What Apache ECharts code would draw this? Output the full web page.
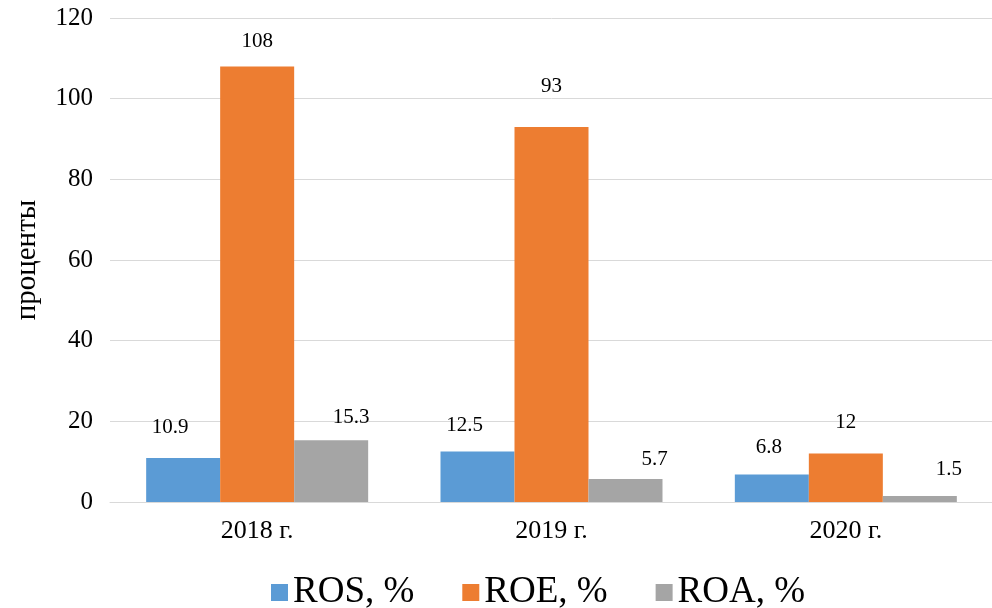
<!DOCTYPE html>
<html><head><meta charset="utf-8">
<script src="https://cdn.jsdelivr.net/npm/echarts@6/dist/echarts.min.js"></script>
<style>html,body{margin:0;padding:0;background:#fff}#c{width:992px;height:608px}</style>
</head><body><div id="c"></div>
<script>
var categories = ['2018 г.', '2019 г.', '2020 г.'];
var seriesNames = ['ROS, %', 'ROE, %', 'ROA, %'];
var ros = [10.9, 12.5, 6.8];
var roe = [108, 93, 12];
var roa = [15.3, 5.7, 1.5];
var yTicks = [0, 20, 40, 60, 80, 100, 120];
var colors = ['#5B9BD5', '#ED7D31', '#A5A5A5'];
// label pixel offsets (layout only)
var labelOffsets = [
  [[-13, -20], [-13, -16], [-3, -17]],
  [[0, -14], [0, -30], [0, -21]],
  [[20, -12], [29, -9], [29, -16]]
];
var values = [ros, roe, roa];
var font = '"Liberation Serif", "Times New Roman", serif';

var series = values.map(function (arr, si) {
  return {
    name: seriesNames[si],
    type: 'bar',
    barWidth: 74,
    barGap: '0%',
    itemStyle: { color: colors[si] },
    data: arr.map(function (v, i) {
      return {
        value: v,
        label: { offset: labelOffsets[si][i] }
      };
    }),
    label: {
      show: true, position: 'top', distance: 0,
      color: '#000', fontFamily: font, fontSize: 21
    }
  };
});

var chart = echarts.init(document.getElementById('c'));
chart.setOption({
  animation: false,
  textStyle: { fontFamily: font },
  grid: { left: 110, right: -1, top: 18, bottom: 106, containLabel: false, outerBoundsMode: 'none' },
  legend: {
    data: seriesNames,
    left: 266, top: 569,
    itemWidth: 17, itemHeight: 17, itemGap: 48,
    icon: 'rect',
    textStyle: { fontFamily: font, fontSize: 37, color: '#000' }
  },
  xAxis: {
    type: 'category', data: categories,
    axisLine: { lineStyle: { color: '#d9d9d9' } },
    axisTick: { show: false },
    axisLabel: { color: '#000', fontFamily: font, fontSize: 26, margin: 16 }
  },
  yAxis: {
    type: 'value', min: yTicks[0], max: yTicks[yTicks.length - 1], interval: 20,
    name: 'проценты', nameLocation: 'middle', nameGap: 68, nameRotate: 90,
    nameTextStyle: { color: '#000', fontFamily: font, fontSize: 29 },
    axisLine: { show: false }, axisTick: { show: false },
    splitLine: { lineStyle: { color: '#d9d9d9', width: 1 } },
    axisLabel: { color: '#000', fontFamily: font, fontSize: 25, margin: 17 }
  },
  series: series
});
</script></body></html>
